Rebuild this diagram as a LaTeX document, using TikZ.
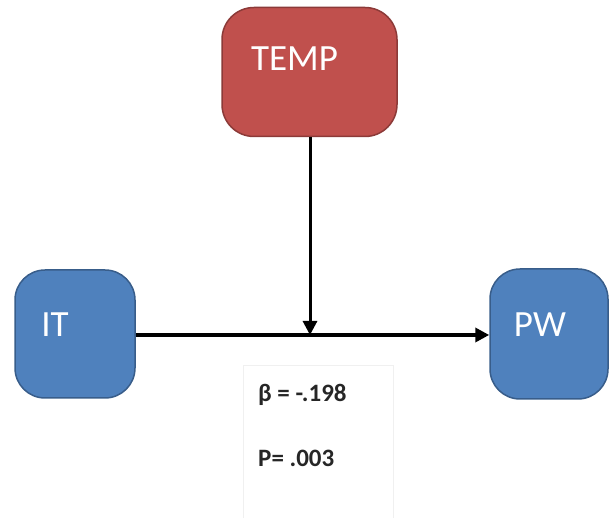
\documentclass[tikz,border=0pt]{standalone}
\usepackage{fontspec}
\setmainfont{Carlito}
\usetikzlibrary{arrows.meta}
\definecolor{tempred}{HTML}{C0504D}
\definecolor{tempedge}{HTML}{8C3A38}
\definecolor{varblue}{HTML}{4F81BD}
\definecolor{varedge}{HTML}{385D8A}
\tikzset{
  varbox/.style={draw=varedge, fill=varblue, line width=1.5pt, rounded corners=30pt},
  modbox/.style={draw=tempedge, fill=tempred, line width=1.5pt, rounded corners=32pt},
  boxtxt/.style={text=white, font=\fontsize{37}{40}\selectfont},
  stattxt/.style={font=\fontsize{25}{27}\selectfont\bfseries, text=black!85, inner sep=0pt},
  effect/.style={line width=4pt, -{Triangle[length=14pt, width=14pt]}}
}
\begin{document}
\begin{tikzpicture}[x=1pt, y=1pt]
      \useasboundingbox (0,0) rectangle (611,518);
      \draw
        (309.5,446) node[modbox, minimum width=175pt, minimum height=129pt,
          label={[boxtxt, xshift=-15pt, yshift=13pt]center:TEMP}] (temp){}
        (75,184) node[varbox, minimum width=120pt, minimum height=128pt,
          label={[boxtxt, xshift=-20pt, yshift=9pt]center:IT}] (it){}
        (549,184) node[varbox, minimum width=118pt, minimum height=130pt,
          label={[boxtxt, xshift=-9pt, yshift=9pt]center:PW}] (pw){};
      \coordinate (mod) at (310,183);
      \begin{scope}
        \draw[effect] (it.east |- mod) to (pw.west |- mod);
        \draw[effect, line width=3pt] (temp.south -| mod) to (mod);
      \end{scope}
      \node[draw=black!6, line width=0.8pt, minimum width=150pt, minimum height=153pt,
        anchor=north west] (stats) at (243,153) {};
      \node[stattxt, anchor=west] (beta) at ([shift={(15pt,-30pt)}]stats.north west) {β = -.198};
      \node[stattxt, anchor=west] (pval) at ([shift={(15pt,-93pt)}]stats.north west) {P= .003};
    \end{tikzpicture}
\end{document}
